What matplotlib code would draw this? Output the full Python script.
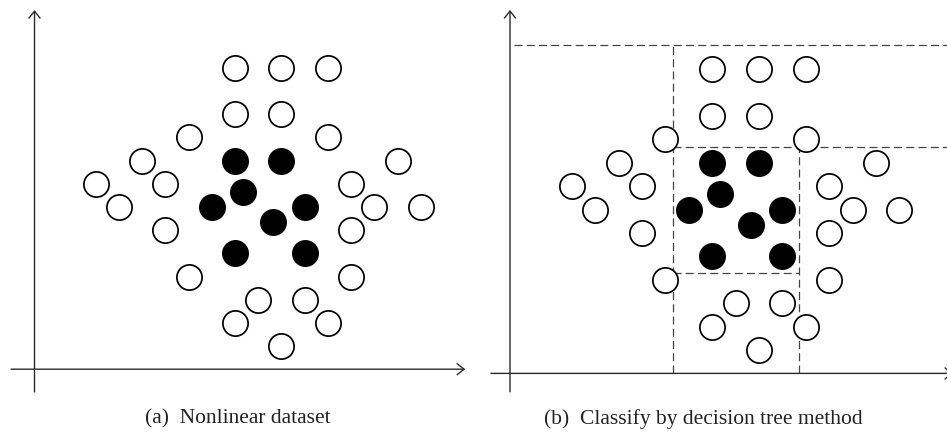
import matplotlib.pyplot as plt

# points of the dataset (grid units)
open_x = [8, 10, 12, 8, 10, 6, 12, 4, 15, 2, 5, 13, 3, 14, 16, 5, 13, 6, 13, 9, 11, 8, 12, 10]
open_y = [13, 13, 13, 11, 11, 10, 10, 9, 9, 8, 8, 8, 7, 7, 7, 6, 6, 4, 4, 3, 3, 2, 2, 1]
filled_x = [8, 10, 8.35, 7, 11, 9.65, 8, 11]
filled_y = [9, 9, 7.65, 7, 7, 6.35, 5, 5]

# decision tree split lines (panel b)
split_x1 = 6.33
split_x2 = 11.7
split_top = 14.03
split_mid = 9.69
split_low = 4.3

captions = ["(a)  Nonlinear dataset", "(b)  Classify by decision tree method"]

W, H = 947, 433
fig = plt.figure(figsize=(W / 100, H / 100), dpi=100)

axis_col = "#2a2a2a"
dash_col = "#444444"
arrow = dict(arrowstyle="->, head_length=0.5, head_width=0.4", lw=1.0,
             color=axis_col, mutation_scale=10, shrinkA=0, shrinkB=0)


def draw_points(ax):
    ax.scatter(open_x, open_y, s=330, facecolors="white", edgecolors="black",
               linewidths=1.25, zorder=3, clip_on=False)
    ax.scatter(filled_x, filled_y, s=330, facecolors="black", edgecolors="black",
               linewidths=1.25, zorder=3, clip_on=False)


# ---- (a) ----
ax1 = fig.add_axes([0, 0, 473 / W, 1])
ax1.set_xlim(-2.108, 18.237)
ax1.set_ylim(-2.754, 15.934)
ax1.axis("off")
draw_points(ax1)
ax1.annotate("", xy=(-0.624, 15.5), xytext=(-0.624, -0.98), arrowprops=arrow,
             annotation_clip=False)
ax1.annotate("", xy=(17.9, 0), xytext=(-1.63, 0), arrowprops=arrow,
             annotation_clip=False)

# ---- (b) ----
ax2 = fig.add_axes([473 / W, 0, 474 / W, 1])
ax2.set_xlim(-2.226, 18.03)
ax2.set_ylim(-2.547, 15.957)
ax2.axis("off")
draw_points(ax2)
ax2.annotate("", xy=(-0.645, 15.53), xytext=(-0.645, -0.79), arrowprops=arrow,
             annotation_clip=False)
ax2.annotate("", xy=(18.29, 0), xytext=(-1.46, 0), arrowprops=arrow,
             annotation_clip=False)

ds = dict(color=dash_col, lw=0.9, linestyle=(0, (6.4, 3.4)), zorder=2)
ax2.plot([-0.47, 18.5], [split_top, split_top], **ds)
ax2.plot([split_x1, split_x1], [0, split_top], **ds)
ax2.plot([split_x1, 18.5], [split_mid, split_mid], **ds)
ax2.plot([split_x2, split_x2], [0, split_mid], **ds)
ax2.plot([split_x1, split_x2], [split_low, split_low], **ds)

# captions
fig.text(238 / W, 1 - 419 / H, captions[0], ha="center", va="center",
         family="Liberation Serif", fontsize=15.5, color="#222222")
fig.text(703 / W, 1 - 419 / H, captions[1], ha="center", va="center",
         family="Liberation Serif", fontsize=15.5, color="#222222")

fig.savefig("out.png", dpi=100)
